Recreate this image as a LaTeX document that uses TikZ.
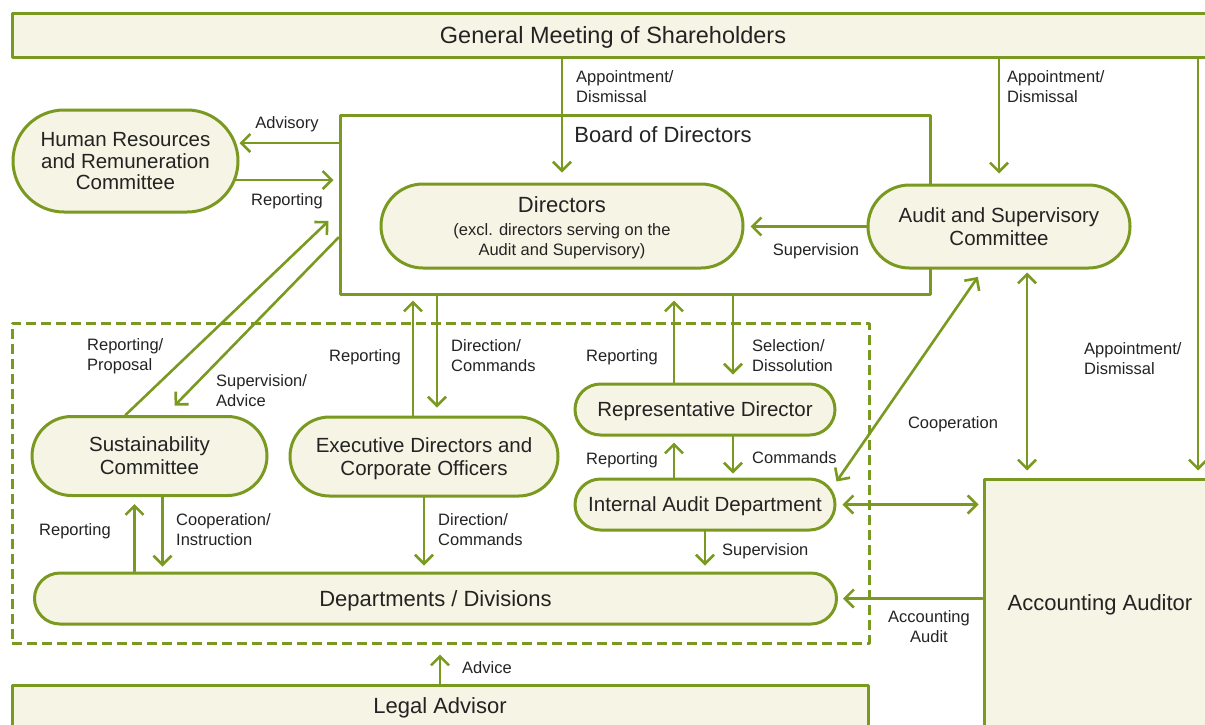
\documentclass[tikz,border=0pt]{standalone}
\usepackage{fontspec}
\setmainfont{Liberation Sans}
\usetikzlibrary{arrows.meta,shapes.misc}

\definecolor{govgreen}{RGB}{122,153,32}
\definecolor{govcream}{RGB}{246,244,228}
\definecolor{govtext}{RGB}{35,35,35}

\newcommand{\boxfont}{\fontsize{20.5}{23}\selectfont}
\newcommand{\headfont}{\fontsize{22}{24}\selectfont}
\newcommand{\lblfont}{\fontsize{16.5}{20}\selectfont}

\tikzset{
  box/.style={draw=govgreen,line width=3pt,fill=govcream,inner sep=0pt,text depth=0pt,
    align=center,font=\boxfont,text=govtext},
  pill/.style={box,rounded rectangle},
  lbl/.style={font=\lblfont,text=govtext,align=left,inner sep=0pt,text depth=0pt},
  arr/.style={govgreen,line width=2.6pt,-{Straight Barb[length=9pt,width=18pt]}},
  biarr/.style={arr,{Straight Barb[length=9pt,width=18pt]}-{Straight Barb[length=9pt,width=18pt]}},
}

\begin{document}
\begin{tikzpicture}[line cap=round,line join=round,x=1pt,y=-1pt]
\useasboundingbox (0,0) rectangle (1205,724);

% executive side, dashed frame
\node[draw=govgreen,line width=3pt,dash pattern=on 10pt off 5pt,line cap=butt,
  minimum width=857pt,minimum height=320pt,inner sep=0pt] (ops) at (440.5,483) {};

\node[box,font=\fontsize{23.5}{26}\selectfont,minimum width=1202pt,minimum height=44pt] (gms) at (613,35) {General Meeting of Shareholders};
\node[box,fill=white,minimum width=590pt,minimum height=179pt] (bod) at (635,204.5) {};
\node[font=\headfont,text=govtext,inner sep=0pt,text depth=0pt] (bodtitle) at (663,135) {Board of Directors};

\node[pill,minimum width=225pt,minimum height=102pt] (hr) at (125.5,161)
  {Human Resources\\[-1.5pt]and Remuneration\\[-1.5pt]Committee};
\node[pill,minimum width=362pt,minimum height=84pt] (dir) at (562,226)
  {{\headfont Directors}\\[0pt]{\lblfont (excl. directors serving on the}\\[-3pt]{\lblfont Audit and Supervisory)}};
\node[pill,minimum width=262pt,minimum height=83pt] (asc) at (999,226.5)
  {Audit and Supervisory\\Committee};

\node[pill,minimum width=235pt,minimum height=79pt] (sust) at (149.5,456) {Sustainability\\Committee};
\node[pill,minimum width=268pt,minimum height=79pt] (exec) at (424,456.5) {Executive Directors and\\Corporate Officers};
\node[pill,minimum width=260pt,minimum height=51pt] (rep) at (705,409.5) {Representative Director};
\node[pill,minimum width=260pt,minimum height=51pt] (iad) at (705,504.5) {Internal Audit Department};
\node[pill,font=\headfont,minimum width=802pt,minimum height=51pt] (dept) at (435.5,598.5) {Departments / Divisions};

\node[box,font=\headfont,minimum width=856pt,minimum height=42pt] (legal) at (440,706) {Legal Advisor};
\node[box,font=\headfont,minimum width=232pt,minimum height=248pt] (aa) at (1100,603) {Accounting Auditor};
\coordinate (rline) at (1198,0);

% shareholders
\draw[arr,shorten >=10pt] (gms.south -| dir.north) -- (dir.north);
\draw[arr,shorten >=10pt] (gms.south -| asc.north) -- (asc.north);
\draw[arr,shorten >=7pt] (gms.south -| rline) -- (aa.north -| rline);

% board and committees
\draw[arr] ([yshift=18pt]hr.east -| bod.west) -- ([yshift=18pt]hr.east);
\draw[arr,shorten <=-4pt,shorten >=5pt] ([yshift=-19pt]hr.east) -- ([yshift=-19pt]hr.east -| bod.west);
\draw[arr,shorten >=6pt] (asc.west) -- (asc.west -| dir.east);
\draw[biarr,shorten <=3pt,shorten >=7pt] ([xshift=28pt]asc.south) -- ([xshift=28pt]asc.south |- aa.north);
\draw[biarr,shorten >=9pt] ([yshift=23pt]iad.east) -- ([xshift=-16pt]asc.south);

\draw[arr] ([xshift=-24pt]sust.north) -- ([xshift=-10pt,yshift=-16.5pt]bod.west);
\draw[arr,shorten >=13pt] ([yshift=-33pt]bod.west) -- ([xshift=16pt]sust.north);

\draw[arr,shorten >=5pt] ([xshift=-11pt]exec.north) -- ([xshift=-11pt]exec.north |- bod.south);
\draw[arr,shorten >=8pt] ([xshift=13pt]exec.north |- bod.south) -- ([xshift=13pt]exec.north);
\draw[arr,shorten >=5pt] ([xshift=-31pt]rep.north) -- ([xshift=-31pt]rep.north |- bod.south);
\draw[arr,shorten >=8pt] ([xshift=28pt]rep.north |- bod.south) -- ([xshift=28pt]rep.north);
\draw[arr,shorten >=6pt] ([xshift=-31pt]iad.north) -- ([xshift=-31pt]rep.south);
\draw[arr,shorten >=4pt] ([xshift=28pt]rep.south) -- ([xshift=28pt]iad.north);

% down to the departments
\draw[arr,shorten >=6pt] (exec.south) -- (exec.south |- dept.north);
\draw[arr,shorten >=6pt] (iad.south) -- (iad.south |- dept.north);
\draw[arr,shorten >=7pt] ([xshift=-15pt]sust.south |- dept.north) -- ([xshift=-15pt]sust.south);
\draw[arr,shorten >=5pt] ([xshift=13pt]sust.south) -- ([xshift=13pt]sust.south |- dept.north);

% accounting auditor and legal advisor
\draw[biarr,shorten <=6pt,shorten >=4pt] (iad.east) -- (iad.east -| aa.west);
\draw[arr,shorten >=5pt] (aa.west |- dept.east) -- (dept.east);
\draw[arr,shorten >=10pt] (legal.north) -- (legal.north |- ops.south);

% labels
\node[lbl] (tadv) at (287,123) {Advisory};
\node[lbl] (thrrep) at (287,200) {Reporting};
\node[lbl,anchor=west] (tapp1) at (576,87) {Appointment/\\Dismissal};
\node[lbl,anchor=west] (tapp2) at (1007,87) {Appointment/\\Dismissal};
\node[lbl,anchor=west] (tapp3) at (1084,359) {Appointment/\\Dismissal};
\node[lbl] (tsup1) at (816,250) {Supervision};
\node[lbl,anchor=west] (trp) at (87,355) {Reporting/\\Proposal};
\node[lbl,anchor=west] (tsa) at (216,391) {Supervision/\\Advice};
\node[lbl] (texrep) at (365,356) {Reporting};
\node[lbl,anchor=west] (tdc1) at (451,356) {Direction/\\Commands};
\node[lbl] (trdrep) at (622,356) {Reporting};
\node[lbl,anchor=west] (tsel) at (752,356) {Selection/\\Dissolution};
\node[lbl] (tiarep) at (622,459) {Reporting};
\node[lbl,anchor=west] (tcmd) at (752,458) {Commands};
\node[lbl,anchor=west] (tdc2) at (438,530) {Direction/\\Commands};
\node[lbl,anchor=west] (tsup2) at (722,550) {Supervision};
\node[lbl] (tsurep) at (75,530) {Reporting};
\node[lbl,anchor=west] (tci) at (176,530) {Cooperation/\\Instruction};
\node[lbl] (tcoop) at (953,423) {Cooperation};
\node[lbl,align=center] (taa) at (929,627) {Accounting\\Audit};
\node[lbl,anchor=west] (tadvice) at (462,668) {Advice};
\end{tikzpicture}
\end{document}
